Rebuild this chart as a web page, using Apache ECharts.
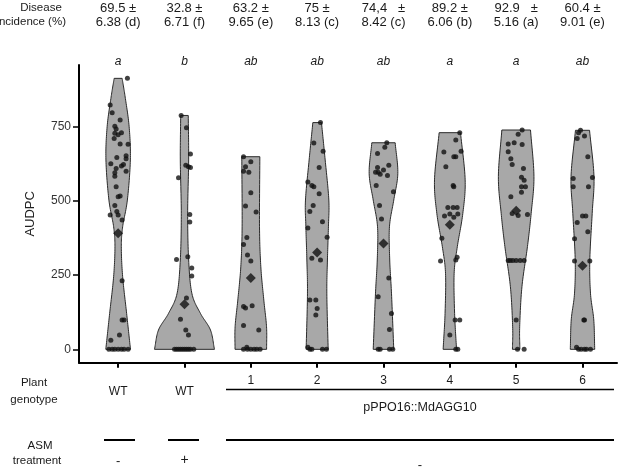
<!DOCTYPE html>
<html><head><meta charset="utf-8">
<script src="https://cdn.jsdelivr.net/npm/echarts@6/dist/echarts.min.js"></script>
<style>html,body{margin:0;padding:0;background:#fff}#c{width:622px;height:469px}</style>
</head><body><div id="c"></div>
<script>
// ---------- data ----------
const categories = ['WT -', 'WT +', '1', '2', '3', '4', '5', '6'];
const incidenceMean = ['69.5 \u00b1', '32.8 \u00b1', '63.2 \u00b1', '75 \u00b1', '74,4   \u00b1', '89.2 \u00b1', '92.9   \u00b1', '60.4 \u00b1'];
const incidenceErr = ['6.38 (d)', '6.71 (f)', '9.65 (e)', '8.13 (c)', '8.42 (c)', '6.06 (b)', '5.16 (a)', '9.01 (e)'];
const sigLetters = ['a', 'b', 'ab', 'ab', 'ab', 'a', 'a', 'ab'];
const genotypeLabels = ['WT', 'WT', '1', '2', '3', '4', '5', '6'];
const treatmentLabels = ['-', '+', '-'];
const yTicks = [0, 250, 500, 750];

// AUDPC observations per group
const audpcValues = [
  [913,823,797,773,752,742,730,728,723,710,692,691,646,652,642,625,623,618,609,595,600,583,548,517,514,485,464,453,453,436,231,99,99,48,31,0,0,0,0,0,0,0],
  [788,747,658,620,615,613,578,454,429,303,312,274,247,173,101,65,48,0,0,0,0,0,0,0,0,0,0],
  [649,632,615,600,597,528,483,463,377,353,318,298,144,139,147,80,65,7,0,0,0,0,0,0],
  [764,695,667,613,564,552,548,524,485,464,430,409,378,307,301,166,166,138,116,7,0,0,0,0],
  [696,681,660,620,613,604,597,597,590,586,552,531,485,439,240,177,121,67,0,0,0,0],
  [730,705,667,665,649,649,615,552,548,478,478,478,456,456,449,445,374,310,301,298,99,99,48,0,0],
  [739,725,696,692,690,666,642,623,609,580,570,548,548,529,514,458,451,454,299,299,299,299,299,299,99,0,0],
  [738,730,719,710,649,579,576,548,548,449,449,427,396,373,298,298,99,99,7,0,0,0,0,0]
];
// horizontal jitter of each observation (category units)
const jitter = [
  [.14,-.12,-.09,.03,-.05,-.03,.05,-.05,0,-.06,.03,.15,-.02,.12,.12,-.11,.08,.05,-.03,-.05,.12,-.05,-.03,.03,0,-.05,-.02,-.12,0,.06,.06,.06,.09,.02,-.11,-.14,-.09,-.05,0,.05,.09,.15],
  [-.05,.03,.09,.02,.06,.09,-.09,.08,.08,-.12,.05,.11,.11,.03,-.06,.02,.06,-.15,-.12,-.09,-.06,-.03,0,.03,.06,.09,.14],
  [-.11,0,-.08,-.11,-.03,0,-.08,.08,-.06,-.11,-.05,0,-.11,-.08,.02,-.11,.12,-.06,-.11,-.05,0,.05,.09,.14],
  [.05,-.05,.09,.03,-.14,-.08,-.05,.03,-.06,-.11,.08,-.14,.15,-.08,.05,-.11,-.02,0,-.02,-.14,-.11,-.08,.08,.14],
  [.05,.02,-.09,.08,-.09,0,-.12,-.08,-.05,.06,-.11,.15,-.06,-.03,.08,-.08,.12,.09,-.08,-.05,.09,.14],
  [.15,.09,.17,-.09,.06,.09,-.06,.05,.06,-.03,.05,.11,0,.12,-.08,.06,-.12,.11,.09,-.14,.08,.15,0,.09,.12],
  [.09,.03,-.03,-.12,.09,-.12,-.08,-.06,.11,.08,.12,.08,.14,.08,-.08,-.06,.03,.17,-.12,-.09,-.05,0,.06,.12,0,.02,.12],
  [-.03,-.06,.03,-.08,.08,.15,-.14,-.14,.09,0,.05,-.08,.08,-.12,-.12,.11,.02,.03,-.09,-.06,-.02,.03,.06,.12]
];
const groupMeans = [391, 152, 240, 326, 357, 420, 467, 282];

// violin density profile: AUDPC levels and half-width (category units)
const violinLevels = [
  [0,121,245,346,413,503,638,750,850,913],
  [0,65,121,187,301,458,638,788],
  [0,76,166,278,413,649],
  [0,187,301,413,503,638,764],
  [0,187,301,413,503,593,696],
  [0,121,256,346,458,571,730],
  [0,76,211,346,458,582,739],
  [0,99,187,301,458,582,738]
];
const violinHalfWidth = [
  [.186,.128,.068,.048,.068,.139,.184,.166,.106,.06],
  [.452,.392,.241,.113,.063,.048,.063,.057],
  [.238,.237,.196,.151,.131,.136],
  [.166,.146,.155,.17,.176,.121,.065],
  [.155,.121,.094,.09,.155,.216,.176],
  [.101,.072,.065,.113,.196,.231,.161],
  [.056,.053,.087,.17,.226,.268,.216],
  [.184,.17,.121,.11,.146,.173,.106]
];

// ---------- helpers ----------
function smoothProfile(lv, hw) {
  const n = lv.length, out = [];
  const P = lv.map((v, k) => [v, hw[k]]);
  const tan = P.map((p, k) => {
    const a = P[Math.max(0, k - 1)], b = P[Math.min(n - 1, k + 1)];
    const d = (k === 0 || k === n - 1) ? 1 : 0.5;
    return [(b[0] - a[0]) * d, (b[1] - a[1]) * d];
  });
  for (let k = 0; k < n - 1; k++) {
    const steps = 16;
    for (let s = 0; s < steps; s++) {
      const t = s / steps, t2 = t * t, t3 = t2 * t;
      const h00 = 2 * t3 - 3 * t2 + 1, h10 = t3 - 2 * t2 + t, h01 = -2 * t3 + 3 * t2, h11 = t3 - t2;
      out.push([
        h00 * P[k][0] + h10 * tan[k][0] + h01 * P[k + 1][0] + h11 * tan[k + 1][0],
        Math.max(0.02, h00 * P[k][1] + h10 * tan[k][1] + h01 * P[k + 1][1] + h11 * tan[k + 1][1])
      ]);
    }
  }
  out.push(P[n - 1]);
  return out;
}

const pointData = [];
audpcValues.forEach((arr, g) => arr.forEach((v, k) => pointData.push([g + 1 + jitter[g][k], v])));
const meanData = groupMeans.map((m, g) => [g + 1, m]);

const FONT = 'Liberation Sans, Arial, sans-serif';

const chart = echarts.init(document.getElementById('c'), null, { renderer: 'canvas' });
chart.setOption({
  animation: false,
  backgroundColor: '#fff',
  grid: { left: 79, right: 5, top: 65, bottom: 106.3 },
  xAxis: {
    type: 'value', min: 0.41, max: 8.52,
    splitLine: { show: false },
    axisLine: { show: true, onZero: false, lineStyle: { color: '#000', width: 2 } },
    axisTick: { show: true, customValues: categories.map((c, i) => i + 1), length: 5, lineStyle: { color: '#000', width: 2 } },
    axisLabel: { show: false }
  },
  yAxis: {
    type: 'value', min: -45, max: 958,
    name: 'AUDPC', nameLocation: 'middle', nameGap: 42, nameRotate: 90,
    nameTextStyle: { fontFamily: FONT, fontSize: 13, color: '#222' },
    splitLine: { show: false },
    axisLine: { show: true, onZero: false, lineStyle: { color: '#000', width: 2 } },
    axisTick: { show: true, customValues: yTicks, length: 6, lineStyle: { color: '#000', width: 1.5 } },
    axisLabel: { customValues: yTicks, fontFamily: FONT, fontSize: 12, color: '#333', margin: 8 }
  },
  series: [
    {
      type: 'custom',
      data: categories.map((c, i) => [i]),
      renderItem: function (params, api) {
        const g = api.value(0);
        const prof = smoothProfile(violinLevels[g], violinHalfWidth[g]);
        const right = prof.map(p => api.coord([g + 1 + p[1], p[0]]));
        const left = prof.slice().reverse().map(p => api.coord([g + 1 - p[1], p[0]]));
        return {
          type: 'polygon',
          shape: { points: right.concat(left) },
          style: { fill: '#a8a8a8', stroke: '#2a2a2a', lineWidth: 1 }
        };
      },
      z: 1
    },
    {
      type: 'scatter', data: pointData, symbol: 'circle', symbolSize: 5,
      itemStyle: { color: '#111' }, z: 3, clip: false
    },
    {
      type: 'scatter', data: meanData, symbol: 'diamond', symbolSize: [10, 10],
      itemStyle: { color: '#111' }, z: 4, clip: false
    }
  ]
});

const px = i => chart.convertToPixel({ xAxisIndex: 0 }, i + 1);
const graphics = [];
function txt(text, x, y, size, opts) {
  graphics.push({
    type: 'text', x: x, y: y, silent: true,
    style: Object.assign({ text: text, fontFamily: FONT, fontSize: size, fill: '#1a1a1a', align: 'center', verticalAlign: 'middle' }, opts || {})
  });
}
function line(x1, y1, x2, y2, w) {
  graphics.push({ type: 'line', silent: true, shape: { x1: x1, y1: y1, x2: x2, y2: y2 }, style: { stroke: '#000', lineWidth: w } });
}
// header
txt('Disease', 41, 8, 11.5);
txt('incidence (%)', 66, 22, 11.5, { align: 'right' });
categories.forEach((c, i) => {
  const x = px(i);
  txt(incidenceMean[i], x, 8, 13);
  txt(incidenceErr[i], x, 22, 13);
  txt(sigLetters[i], x, 62, 12, { fontStyle: 'italic' });
});
// genotype row
txt('Plant', 34, 383, 11.5);
txt('genotype', 34, 400, 11.5);
txt(genotypeLabels[0], px(0), 392, 12);
txt(genotypeLabels[1], px(1), 392, 12);
for (let i = 2; i < 8; i++) txt(genotypeLabels[i], px(i), 381, 12);
line(226, 389.5, 614, 389.5, 1.5);
txt('pPPO16::MdAGG10', 420, 408, 12.5);
// treatment row
txt('ASM', 40, 446, 11.5);
txt('treatment', 37, 461, 11.5);
line(104, 440, 135, 440, 2);
line(168, 440, 199, 440, 2);
line(226, 440, 614, 440, 2);
txt(treatmentLabels[0], px(0), 461, 13);
txt(treatmentLabels[1], px(1), 460, 14);
txt(treatmentLabels[2], 420, 465, 13);
chart.setOption({ graphic: graphics });
</script>
</body></html>
